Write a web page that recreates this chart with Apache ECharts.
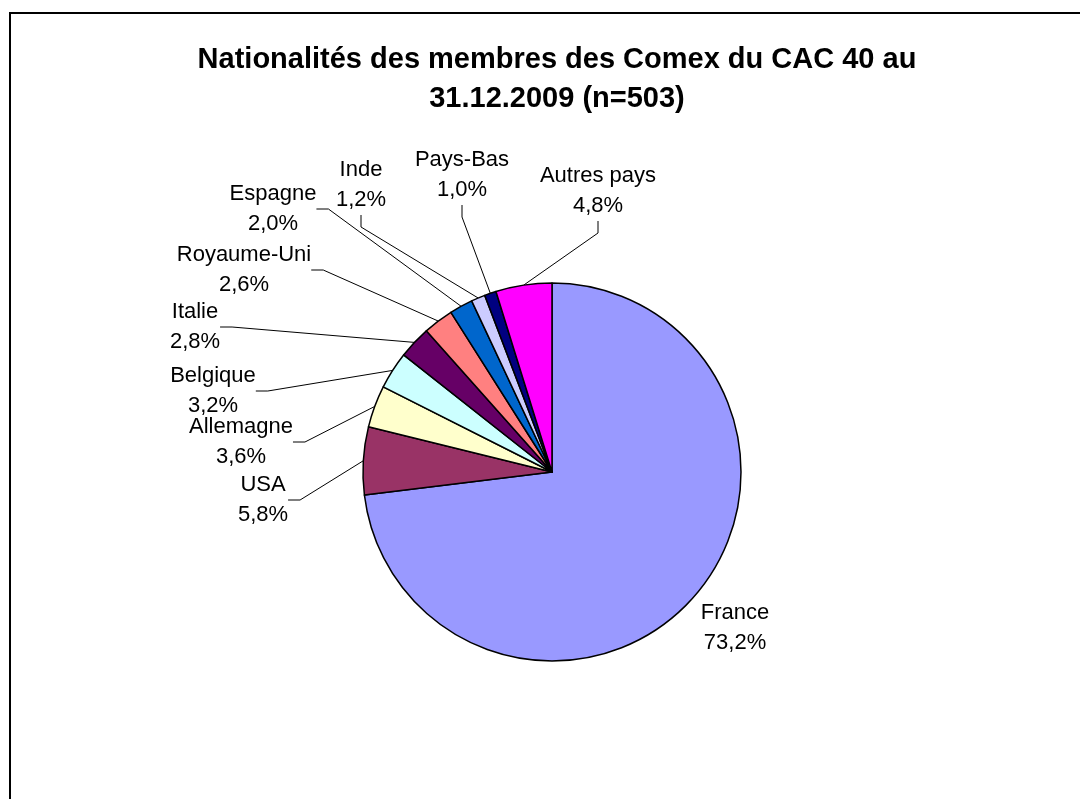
<!DOCTYPE html>
<html>
<head>
<meta charset="utf-8">
<script src="https://cdn.jsdelivr.net/npm/echarts@6/dist/echarts.min.js"></script>
<style>
  html, body { margin: 0; padding: 0; background: #fff; }
  #chart { width: 1080px; height: 799px; }
</style>
</head>
<body>
<div id="chart"></div>
<script>
// categories and shares (%)
const countries = ['France', 'USA', 'Allemagne', 'Belgique', 'Italie', 'Royaume-Uni', 'Espagne', 'Inde', 'Pays-Bas', 'Autres pays']
const shares = [73.2, 5.8, 3.6, 3.2, 2.8, 2.6, 2.0, 1.2, 1.0, 4.8]

// Excel-like palette
const colors = ['#9999FF', '#993366', '#FFFFCC', '#CCFFFF', '#660066', '#FF8080', '#0066CC', '#CCCCFF', '#000080', '#FF00FF']

// label block centres
const labelPos = [
  [735, 628], [263, 500], [241, 442], [213, 391], [195, 327],
  [244, 270], [273, 209], [361, 185], [462, 175], [598, 191],
]

const chart = echarts.init(document.getElementById('chart'), null, { renderer: 'canvas' })

const fontFamily = '"Liberation Sans", Arial, sans-serif'

chart.setOption({
  animation: false,
  textStyle: { fontFamily },
  title: {
    text: 'Nationalités des membres des Comex du CAC 40 au\n31.12.2009 (n=503)',
    left: 552,
    top: 35,
    textAlign: 'center',
    textStyle: { fontFamily, fontSize: 29, fontWeight: 'bold', color: '#000', lineHeight: 39 },
  },
  graphic: [{
    type: 'rect',
    shape: { x: 10, y: 13, width: 1100, height: 830 },
    style: { fill: 'none', stroke: '#000', lineWidth: 2 },
    silent: true,
  }],
  series: [{
    type: 'pie',
    center: [552, 472],
    radius: 189,
    startAngle: 90,
    clockwise: true,
    avoidLabelOverlap: false,
    data: countries.map((c, i) => ({
      name: c,
      value: shares[i],
      itemStyle: { color: colors[i] },
      labelLine: { show: i !== 0 },
    })),
    itemStyle: { borderColor: '#000', borderWidth: 1.5 },
    label: {
      show: true,
      color: '#000',
      fontFamily,
      fontSize: 22,
      lineHeight: 30,
      align: 'center',
      formatter: p => p.name + '\n' + p.value.toFixed(1).replace('.', ',') + '%',
    },
    labelLine: {
      show: true,
      length: 20,
      length2: 12,
      lineStyle: { color: '#000', width: 1 },
    },
    labelLayout: params => {
      const p = labelPos[params.dataIndex]
      return { x: p[0], y: p[1], align: 'center', verticalAlign: 'middle' }
    },
    emphasis: { disabled: true },
  }],
})
</script>
</body>
</html>
